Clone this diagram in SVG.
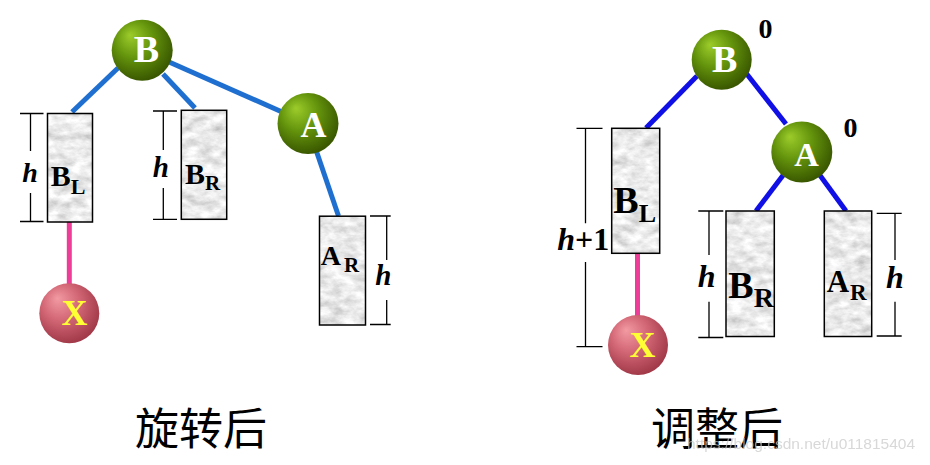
<svg xmlns="http://www.w3.org/2000/svg" width="930" height="465" viewBox="0 0 930 465">
<defs>
<style>
.lt{font-family:"Liberation Serif","Times New Roman",serif;font-weight:bold;}
.cl{font-family:"Liberation Serif","Times New Roman",serif;font-weight:bold;fill:#ffffff;text-anchor:middle;}
.xl{font-family:"Liberation Serif","Times New Roman",serif;font-weight:bold;fill:#ffff33;text-anchor:middle;}
.hh{font-family:"Liberation Serif","Times New Roman",serif;font-weight:bold;font-style:italic;text-anchor:middle;fill:#000;}
.num{font-family:"Liberation Serif","Times New Roman",serif;font-weight:bold;text-anchor:middle;fill:#000;}
.dim{stroke:#000;stroke-width:1.3;fill:none;}
.tex{filter:url(#marble);fill:#ddd;}
.box{fill:none;stroke:#000;stroke-width:1.5;}
.eL{stroke:#1f6fd0;stroke-width:5;fill:none;}
.eR{stroke:#1010e6;stroke-width:5;fill:none;}
.eP{stroke:#ee3d98;stroke-width:5;fill:none;}
.zh{font-family:"Noto Sans CJK SC",sans-serif;font-size:44px;fill:#000;}
.wm{font-family:"Liberation Sans",Arial,sans-serif;font-size:15.5px;fill:#c8c8c8;opacity:0.7;}
</style>
<radialGradient id="gGreen" cx="0.42" cy="0.38" r="0.62" fx="0.3" fy="0.25">
<stop offset="0" stop-color="#9ccc2a"/>
<stop offset="0.5" stop-color="#64940c"/>
<stop offset="1" stop-color="#3a5800"/>
</radialGradient>
<radialGradient id="gPink" cx="0.42" cy="0.38" r="0.62" fx="0.3" fy="0.25">
<stop offset="0" stop-color="#f29aa2"/>
<stop offset="0.5" stop-color="#d26674"/>
<stop offset="1" stop-color="#a23a4a"/>
</radialGradient>
<filter id="marble" x="0" y="0" width="100%" height="100%">
<feTurbulence type="fractalNoise" baseFrequency="0.07 0.12" numOctaves="4" seed="7" result="n"/>
<feColorMatrix in="n" type="matrix" values="0.75 0 0 0 0.45  0.75 0 0 0 0.45  0.75 0 0 0 0.45  0 0 0 0 1" result="g"/>
<feComposite in="g" in2="SourceGraphic" operator="in"/>
</filter>
</defs>
<rect width="930" height="465" fill="#ffffff"/>

<g id="connectors">
<line class="eL" x1="118" y1="68" x2="72" y2="112"/>
<line class="eL" x1="163" y1="74" x2="195" y2="108"/>
<line class="eL" x1="142" y1="50" x2="308" y2="123.5"/>
<line class="eL" x1="316" y1="150" x2="338.5" y2="216"/>
<line class="eP" x1="69.3" y1="222" x2="69.3" y2="286"/>
<line class="eR" x1="697" y1="76" x2="646" y2="128"/>
<line class="eR" x1="746" y1="73" x2="786" y2="124"/>
<line class="eR" x1="784" y1="174" x2="756" y2="211"/>
<line class="eR" x1="819" y1="174" x2="846" y2="211"/>
<line class="eP" x1="637.5" y1="253" x2="637.5" y2="318"/>
</g>

<g id="left-BL">
<rect class="tex" x="47.5" y="113.5" width="45" height="108.5"/>
<rect class="box" x="47.5" y="113.5" width="45" height="108.5"/>
<text class="lt" x="50.7" y="186" font-size="30">B<tspan font-size="22" dy="8">L</tspan></text>
<path class="dim" d="M20 113.5H43.5M20 221.5H43.5M30.5 113.5V151M30.5 193V221.5"/>
<text class="hh" x="30" y="182.3" font-size="28">h</text>
</g>
<g id="left-BR">
<rect class="tex" x="181.3" y="110.3" width="45.4" height="109"/>
<rect class="box" x="181.3" y="110.3" width="45.4" height="109"/>
<text class="lt" x="185" y="183.5" font-size="30">B<tspan font-size="21" dy="6">R</tspan></text>
<path class="dim" d="M153 111H177M153 219.3H177M163.3 111V150M163.3 188V219.3"/>
<text class="hh" x="160.8" y="176.7" font-size="29">h</text>
</g>
<g id="left-AR">
<rect class="tex" x="319.5" y="216.2" width="46" height="108.8"/>
<rect class="box" x="319.5" y="216.2" width="46" height="108.8"/>
<text class="lt" x="320.7" y="265" font-size="28">A<tspan x="344" font-size="21" dy="6.7">R</tspan></text>
<path class="dim" d="M370 216H390.7M370 324.5H390.7M386.7 216V260M386.7 300V324.5"/>
<text class="hh" x="383.3" y="285" font-size="29">h</text>
</g>
<g id="left-B">
<circle cx="142.2" cy="50.3" r="30.5" fill="url(#gGreen)"/>
<text class="cl" x="146.5" y="62.3" font-size="38">B</text>
</g>
<g id="left-A">
<circle cx="308" cy="123.5" r="30.5" fill="url(#gGreen)"/>
<text class="cl" x="313.5" y="136.5" font-size="36">A</text>
</g>
<g id="left-X">
<circle cx="69.3" cy="313.3" r="30" fill="url(#gPink)"/>
<text class="xl" x="74.5" y="325" font-size="36">X</text>
</g>

<g id="right-BL">
<rect class="tex" x="611.7" y="128.3" width="48" height="125"/>
<rect class="box" x="611.7" y="128.3" width="48" height="125"/>
<text class="lt" x="613.3" y="212.7" font-size="38">B<tspan font-size="26" dy="9.6">L</tspan></text>
<path class="dim" d="M576.5 128.3H602.5M576.5 346.7H602.5M585.5 128.3V223.3M585.5 262V346.7"/>
<text class="hh" x="557.3" y="250" font-size="32" style="text-anchor:start">h<tspan font-style="normal">+1</tspan></text>
</g>
<g id="right-BR">
<rect class="tex" x="726" y="211" width="48.3" height="125.5"/>
<rect class="box" x="726" y="211" width="48.3" height="125.5"/>
<text class="lt" x="728.3" y="297.7" font-size="38">B<tspan font-size="28" dy="9">R</tspan></text>
<path class="dim" d="M698.3 211H723.3M698.3 337.5H723.3M709 211V255M709 301.7V337.5"/>
<text class="hh" x="706.7" y="287.3" font-size="32">h</text>
</g>
<g id="right-AR">
<rect class="tex" x="824.3" y="211" width="47.4" height="125.5"/>
<rect class="box" x="824.3" y="211" width="47.4" height="125.5"/>
<text class="lt" x="826.7" y="292" font-size="31">A<tspan x="850" font-size="23" dy="8">R</tspan></text>
<path class="dim" d="M876.7 213.3H901.7M876.7 336H901.7M895 213.3V260M895 301.7V336"/>
<text class="hh" x="895" y="288.3" font-size="32">h</text>
</g>
<g id="right-B">
<circle cx="721.7" cy="59.7" r="30" fill="url(#gGreen)"/>
<text class="cl" x="724.7" y="71.7" font-size="38">B</text>
<text class="num" x="765.5" y="38" font-size="28">0</text>
</g>
<g id="right-A">
<circle cx="801.8" cy="152" r="30.5" fill="url(#gGreen)"/>
<text class="cl" x="806.5" y="165.5" font-size="34">A</text>
<text class="num" x="850.5" y="137" font-size="28">0</text>
</g>
<g id="right-X">
<circle cx="638" cy="345" r="30" fill="url(#gPink)"/>
<text class="xl" x="642.5" y="357" font-size="36">X</text>
</g>

<text class="zh" x="135" y="445">旋转后</text>
<text class="zh" x="651" y="445">调整后</text>
<text class="wm" x="687" y="448.5">https://blog.csdn.net/u011815404</text>
</svg>
